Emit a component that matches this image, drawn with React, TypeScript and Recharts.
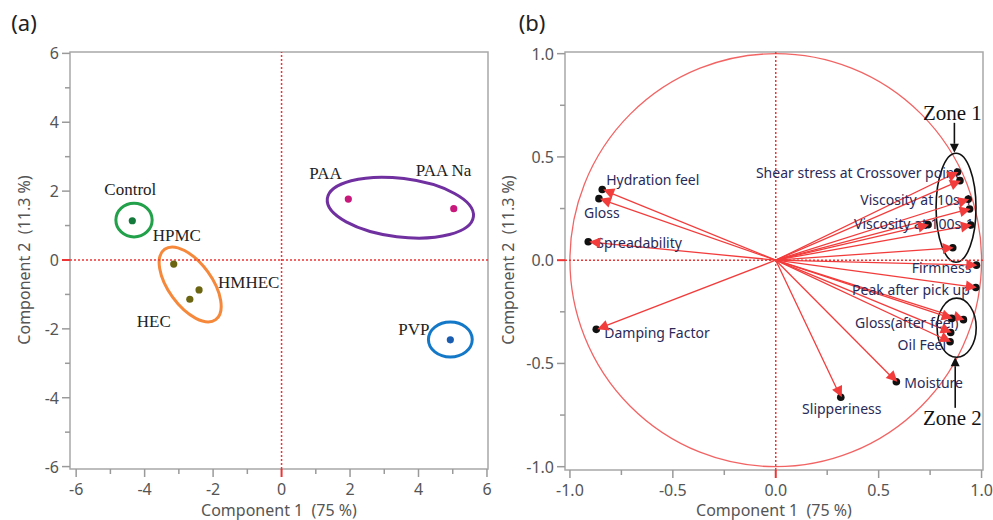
import React from "react";
import {
  ScatterChart,
  Scatter,
  XAxis,
  YAxis,
  ReferenceLine,
  ReferenceArea,
  ReferenceDot,
} from "recharts";

// (a) PCA scores
const samples = ["Control", "HPMC", "HMHEC", "HEC", "PAA", "PAA Na", "PVP"];
const scoreC1 = [-4.36, -3.15, -2.41, -2.68, 1.95, 5.03, 4.93];
const scoreC2 = [1.14, -0.12, -0.87, -1.14, 1.77, 1.49, -2.32];
const majorTicksA = [-6, -4, -2, 0, 2, 4, 6];
const minorTicksA = [-5, -3, -1, 1, 3, 5];

// (b) PCA loadings (unnamed ones are hidden under the zone labels)
const variables = [
  "Hydration feel",
  "Gloss",
  "Spreadability",
  "Damping Factor",
  "Slipperiness",
  "Moisture",
  "Firmness",
  "Peak after pick up",
  "Gloss(after feel)",
  "",
  "",
  "Oil Feel",
  "Shear stress at Crossover point",
  "",
  "Viscosity at 10s-1",
  "",
  "Viscosity at 100s-1",
  "",
  "",
];
const loadC1 = [-0.843, -0.859, -0.911, -0.872, 0.316, 0.586, 0.975, 0.972, 0.912, 0.855, 0.85, 0.847, 0.883, 0.895, 0.935, 0.942, 0.948, 0.74, 0.86];
const loadC2 = [0.342, 0.298, 0.089, -0.335, -0.664, -0.589, -0.024, -0.132, -0.288, -0.282, -0.35, -0.395, 0.427, 0.385, 0.295, 0.248, 0.17, 0.172, 0.06];
const majorTicksB = [-1, -0.5, 0, 0.5, 1];
const minorTicksB = [-0.75, -0.25, 0.25, 0.75];

const scoreData = samples.map((name, i) => ({ name, x: scoreC1[i], y: scoreC2[i] }));
const loadData = variables.map((name, i) => ({ name, x: loadC1[i], y: loadC2[i] }));

// styling
const dotColor: Record<string, string> = {
  Control: "#137a3c",
  HPMC: "#6b6512",
  HMHEC: "#6b6512",
  HEC: "#6b6512",
  PAA: "#c8187c",
  "PAA Na": "#c8187c",
  PVP: "#1a5cb0",
};
const labelA: Record<string, [string, number, number]> = {
  Control: ["middle", -2, -31],
  HPMC: ["start", -21, -29],
  HMHEC: ["start", 19, -7],
  HEC: ["start", -53, 22],
  PAA: ["start", -39, -26],
  "PAA Na": ["start", -38, -38],
  PVP: ["start", -52, -10],
};
const labelB: Record<string, [string, number, number]> = {
  "Hydration feel": ["start", 4, -10],
  Gloss: ["start", -15, 14],
  Spreadability: ["start", 8, 1],
  "Damping Factor": ["start", 8, 3],
  Slipperiness: ["middle", 1, 11],
  Moisture: ["start", 8, 1],
  Firmness: ["end", -5, 2],
  "Peak after pick up": ["end", -6, 2],
  "Gloss(after feel)": ["end", -5, 3],
  "Oil Feel": ["end", -4, 3],
  "Shear stress at Crossover point": ["end", 2, 1],
  "Viscosity at 10s-1": ["end", 4, 0],
  "Viscosity at 100s-1": ["end", 3, -2],
};

const groupsA = [
  { cx: -4.31, cy: 1.16, rx: 0.53, ry: 0.49, angle: 0, color: "#22a04a" },
  { cx: -2.67, cy: -0.71, rx: 1.27, ry: 0.63, angle: 54, color: "#f5883a" },
  { cx: 3.47, cy: 1.52, rx: 2.15, ry: 0.85, angle: 7, color: "#7030a0" },
  { cx: 4.93, cy: -2.31, rx: 0.64, ry: 0.51, angle: 0, color: "#1478c8" },
];
const zonesB = [
  { cx: 0.876, cy: 0.254, rx: 0.097, ry: 0.264 },
  { cx: 0.879, cy: -0.327, rx: 0.095, ry: 0.143 },
];

const W = 993;
const H = 520;
const tickFont = { fontFamily: "'Noto Sans', sans-serif", fontSize: 16, fill: "#555" };
const RED = "#ee3535";
const ARROW = "#f23c3c";

const ellipseShape = (color: string, width: number, angle = 0) => (p: any) => {
  const w = Math.abs(p.width);
  const h = Math.abs(p.height);
  const cx = Math.min(p.x, p.x + p.width) + w / 2;
  const cy = Math.min(p.y, p.y + p.height) + h / 2;
  return (
    <ellipse
      cx={cx}
      cy={cy}
      rx={w / 2}
      ry={h / 2}
      fill="none"
      stroke={color}
      strokeWidth={width}
      transform={`rotate(${angle} ${cx} ${cy})`}
    />
  );
};

const headPoints = (x: number, y: number, a: number, head: number) => {
  const hx = x - head * Math.cos(a);
  const hy = y - head * Math.sin(a);
  const hw = head * 0.5;
  return [
    [x, y],
    [hx + hw * Math.sin(a), hy - hw * Math.cos(a)],
    [hx - hw * Math.sin(a), hy + hw * Math.cos(a)],
  ]
    .map((q) => q.join(","))
    .join(" ");
};

const arrowShape = (color: string, width: number, head: number) => (p: any) => {
  const { x1, y1, x2, y2 } = p;
  const a = Math.atan2(y2 - y1, x2 - x1);
  if (head === 0) {
    return <line x1={x1} y1={y1} x2={x2} y2={y2} stroke={color} strokeWidth={width} />;
  }
  return (
    <g>
      <line x1={x1} y1={y1} x2={x2 - head * Math.cos(a)} y2={y2 - head * Math.sin(a)} stroke={color} strokeWidth={width} />
      <polygon points={headPoints(x2, y2, a, head)} fill={color} />
    </g>
  );
};

const makeTick = (major: number[], axis: "x" | "y", fmt: (v: number) => string) => (p: any) => {
  const { x, y, payload } = p;
  const v = payload.value;
  const isMajor = major.includes(v);
  const len = isMajor ? 8 : 5;
  const color = v === 0 ? RED : "#9a9a9a";
  const sw = v === 0 ? 2 : 1.5;
  const label = fmt(v);
  if (axis === "x") {
    return (
      <g>
        <line x1={x} x2={x} y1={y} y2={y + len} stroke={color} strokeWidth={sw} />
        {isMajor && (
          <text x={x} y={y + 26} textAnchor="middle" {...tickFont}>
            {label}
          </text>
        )}
      </g>
    );
  }
  return (
    <g>
      <line x1={x - len} x2={x} y1={y} y2={y} stroke={color} strokeWidth={sw} />
      {isMajor && (
        <text x={x - 11} y={y} textAnchor="end" dominantBaseline="central" {...tickFont}>
          {label}
        </text>
      )}
    </g>
  );
};

const ScoreDot = (p: any) => {
  const { cx, cy, payload } = p;
  const [anchor, dx, dy] = labelA[payload.name];
  return (
    <g>
      <circle cx={cx} cy={cy} r={3.6} fill={dotColor[payload.name]} />
      <text
        x={cx + dx}
        y={cy + dy}
        textAnchor={anchor as any}
        dominantBaseline="central"
        fontFamily="'Liberation Serif', serif"
        fontSize={17}
        fill="#222"
      >
        {payload.name}
      </text>
    </g>
  );
};

const LoadLabel = (p: any) => {
  const { cx, cy, payload } = p;
  const lab = labelB[payload.name];
  if (!lab) return <g />;
  return (
    <text
      x={cx + lab[1]}
      y={cy + lab[2]}
      textAnchor={lab[0] as any}
      dominantBaseline="central"
      fontFamily="'Noto Sans', sans-serif"
      fontSize={14}
      fill="#2a2a58"
    >
      {payload.name}
    </text>
  );
};

// black marker partly hidden under the red arrow tip
const LoadDot = (p: any) => {
  const { cx, cy, payload } = p;
  const a = Math.atan2(-payload.y, payload.x);
  return (
    <g>
      <circle cx={cx} cy={cy} r={3.8} fill="#111" />
      <polygon points={headPoints(cx + 1, cy, a, 11)} fill={ARROW} />
    </g>
  );
};

const frameStyle = { fill: "none", stroke: "#a8a8a8", strokeWidth: 1.5 };

function ScorePlot() {
  const xd: [number, number] = [-6.18, 6.03];
  const yd: [number, number] = [-6.07, 6.04];
  const allTicks = [...majorTicksA, ...minorTicksA].sort((a, b) => a - b);
  return (
    <ScatterChart width={500} height={H} margin={{ top: 52, right: 12, bottom: 21, left: 30 }}>
      <XAxis
        type="number"
        dataKey="x"
        domain={xd}
        allowDataOverflow
        ticks={allTicks}
        interval={0}
        tickSize={0}
        tickMargin={0}
        height={30}
        axisLine={false}
        tick={makeTick(majorTicksA, "x", (v) => String(v))}
      />
      <YAxis
        type="number"
        dataKey="y"
        domain={yd}
        allowDataOverflow
        ticks={allTicks}
        interval={0}
        tickSize={0}
        tickMargin={0}
        width={40}
        axisLine={false}
        tick={makeTick(majorTicksA, "y", (v) => String(v))}
      />
      <ReferenceArea x1={xd[0]} x2={xd[1]} y1={yd[0]} y2={yd[1]} {...frameStyle} />
      <ReferenceLine x={0} stroke={RED} strokeDasharray="2 2" strokeWidth={1.5} />
      <ReferenceLine y={0} stroke={RED} strokeDasharray="2 2" strokeWidth={1.5} />
      {groupsA.map((g, i) => (
        <ReferenceArea
          key={i}
          x1={g.cx - g.rx}
          x2={g.cx + g.rx}
          y1={g.cy - g.ry}
          y2={g.cy + g.ry}
          shape={ellipseShape(g.color, 3, g.angle)}
        />
      ))}
      <Scatter data={scoreData} shape={ScoreDot} isAnimationActive={false} />
    </ScatterChart>
  );
}

function LoadingPlot() {
  const xd: [number, number] = [-1.024, 1.007];
  const yd: [number, number] = [-1.016, 1.008];
  const allTicks = [...majorTicksB, ...minorTicksB].sort((a, b) => a - b);
  const fmt = (v: number) => v.toFixed(1);
  return (
    <ScatterChart width={498} height={H} margin={{ top: 52, right: 10, bottom: 20, left: 30 }}>
      <XAxis
        type="number"
        dataKey="x"
        domain={xd}
        allowDataOverflow
        ticks={allTicks}
        interval={0}
        tickSize={0}
        tickMargin={0}
        height={30}
        axisLine={false}
        tick={makeTick(majorTicksB, "x", fmt)}
      />
      <YAxis
        type="number"
        dataKey="y"
        domain={yd}
        allowDataOverflow
        ticks={allTicks}
        interval={0}
        tickSize={0}
        tickMargin={0}
        width={40}
        axisLine={false}
        tick={makeTick(majorTicksB, "y", fmt)}
      />
      <ReferenceArea x1={xd[0]} x2={xd[1]} y1={yd[0]} y2={yd[1]} {...frameStyle} />
      <ReferenceArea x1={-1} x2={1} y1={-1} y2={1} shape={ellipseShape("#f26464", 1.3)} />
      <ReferenceLine x={0} stroke={RED} strokeDasharray="2 2" strokeWidth={1.5} />
      <ReferenceLine y={0} stroke={RED} strokeDasharray="2 2" strokeWidth={1.5} />
      {loadData.map((d, i) => (
        <ReferenceLine
          key={i}
          segment={[
            { x: 0, y: 0 },
            { x: d.x, y: d.y },
          ]}
          shape={arrowShape(ARROW, 1.3, 0)}
        />
      ))}
      <Scatter data={loadData} shape={LoadLabel} isAnimationActive={false} />
      <Scatter data={loadData} shape={LoadDot} isAnimationActive={false} />
      {zonesB.map((z, i) => (
        <ReferenceArea
          key={"z" + i}
          x1={z.cx - z.rx}
          x2={z.cx + z.rx}
          y1={z.cy - z.ry}
          y2={z.cy + z.ry}
          shape={ellipseShape("#111", 1.6)}
        />
      ))}
      <ReferenceLine
        segment={[
          { x: 0.868, y: 0.665 },
          { x: 0.868, y: 0.52 },
        ]}
        shape={arrowShape("#111", 1.6, 9)}
      />
      <ReferenceLine
        segment={[
          { x: 0.872, y: -0.715 },
          { x: 0.872, y: -0.47 },
        ]}
        shape={arrowShape("#111", 1.6, 9)}
      />
      <ReferenceDot
        x={0.858}
        y={0.711}
        r={0}
        shape={(p: any) => (
          <text x={p.cx} y={p.cy} textAnchor="middle" dominantBaseline="central" fontFamily="'Liberation Serif', serif" fontSize={21} fill="#111">
            Zone 1
          </text>
        )}
      />
      <ReferenceDot
        x={0.858}
        y={-0.766}
        r={0}
        shape={(p: any) => (
          <text x={p.cx} y={p.cy} textAnchor="middle" dominantBaseline="central" fontFamily="'Liberation Serif', serif" fontSize={21} fill="#111">
            Zone 2
          </text>
        )}
      />
    </ScatterChart>
  );
}

const txt = (left: number, top: number, text: string, size: number, rotate = false, color = "#555") => (
  <div
    style={{
      position: "absolute",
      left,
      top,
      transform: `translate(-50%, -50%)${rotate ? " rotate(-90deg)" : ""}`,
      whiteSpace: "pre",
      fontFamily: "'Noto Sans', sans-serif",
      fontSize: size,
      color,
      lineHeight: 1,
    }}
  >
    {text}
  </div>
);

export default function App() {
  return (
    <div style={{ position: "fixed", left: 0, top: 0, width: W, height: H, background: "#fff", overflow: "hidden" }}>
      <div style={{ position: "absolute", left: 0, top: 0 }}>
        <ScorePlot />
      </div>
      <div style={{ position: "absolute", left: 495, top: 0 }}>
        <LoadingPlot />
      </div>
      {txt(24, 22, "(a)", 22, false, "#222")}
      {txt(532, 22, "(b)", 22, false, "#222")}
      {txt(279, 510, "Component 1  (75 %)", 16)}
      {txt(774, 510, "Component 1  (75 %)", 16)}
      {txt(24, 260, "Component 2  (11.3 %)", 16, true)}
      {txt(508, 260, "Component 2  (11.3 %)", 16, true)}
    </div>
  );
}
